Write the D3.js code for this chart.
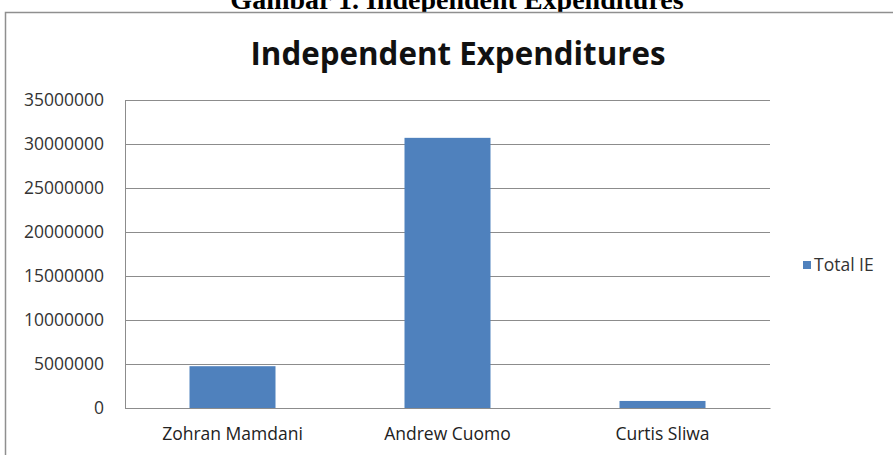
<!DOCTYPE html>
<html lang="en">
<head>
    <meta charset="UTF-8">
    <script src="https://d3js.org/d3.v7.min.js"></script>
    <title>Independent Expenditures</title>
    <style>
        body { margin: 0; background: #fff; }
        svg { display: block; }
    </style>
</head>
<body>
    <svg width="893" height="455"></svg>
    <script>
        const candidates = ['Zohran Mamdani', 'Andrew Cuomo', 'Curtis Sliwa'];
        const totalIE = [4750000, 30700000, 800000];
        const yTicks = [0, 5000000, 10000000, 15000000, 20000000, 25000000, 30000000, 35000000];
        const seriesName = 'Total IE';

        const margin = { top: 100, bottom: 47, left: 125, right: 123 };
        const width = 893;
        const height = 455;
        const barColor = '#4f81bd';
        const font = '"Open Sans", sans-serif';

        const svg = d3.select('svg');

        // caption above the chart box, top half cut off by the page edge
        svg.append('text')
            .attr('x', 457)
            .attr('y', 9)
            .attr('text-anchor', 'middle')
            .style('font-family', '"Liberation Serif", serif')
            .style('font-weight', 'bold')
            .style('font-size', '28px')
            .text('Gambar 1. Independent Expenditures');

        // chart frame
        svg.append('rect')
            .attr('x', 5.5)
            .attr('y', 12.5)
            .attr('width', 900)
            .attr('height', 460)
            .attr('fill', '#fff')
            .attr('stroke', '#8f8f8f')
            .attr('stroke-width', 1.5);

        svg.append('text')
            .attr('x', 458)
            .attr('y', 65)
            .attr('text-anchor', 'middle')
            .attr('textLength', 415)
            .attr('lengthAdjust', 'spacingAndGlyphs')
            .style('font-family', font)
            .style('font-weight', 'bold')
            .style('font-size', '33px')
            .attr('fill', '#111')
            .text('Independent Expenditures');

        const x = d3.scaleBand()
            .domain(candidates)
            .range([margin.left, width - margin.right])
            .paddingInner(0.6)
            .paddingOuter(0.3);

        const y = d3.scaleLinear()
            .domain([0, 35000000])
            .range([height - margin.bottom, margin.top]);

        // gridlines + y labels
        const yAxis = d3.axisLeft(y)
            .tickValues(yTicks)
            .tickSize(-(width - margin.left - margin.right))
            .tickPadding(21)
            .tickFormat(d3.format('d'));

        const gy = svg.append('g')
            .attr('transform', `translate(${margin.left}, 0)`)
            .call(yAxis);
        gy.select('.domain').attr('stroke', '#8c8c8c');
        gy.selectAll('.tick line').attr('stroke', '#8c8c8c');
        gy.selectAll('.tick text')
            .attr('fill', '#333')
            .style('font-family', font)
            .style('font-size', '17.5px');

        svg.selectAll('rect.bar')
            .data(totalIE)
            .enter().append('rect')
            .attr('class', 'bar')
            .attr('x', (d, i) => x(candidates[i]))
            .attr('y', d => y(d))
            .attr('width', x.bandwidth())
            .attr('height', d => y(0) - y(d))
            .attr('fill', barColor);

        const xAxis = d3.axisBottom(x).tickSize(0).tickPadding(20);
        const gx = svg.append('g')
            .attr('transform', `translate(0, ${height - margin.bottom})`)
            .call(xAxis);
        gx.select('.domain').attr('stroke', '#8c8c8c');
        gx.selectAll('.tick text')
            .attr('fill', '#222')
            .style('font-family', font)
            .style('font-size', '17.5px');

        // legend
        const legend = svg.append('g').attr('transform', 'translate(803, 265)');
        legend.append('rect')
            .attr('x', 0).attr('y', -4)
            .attr('width', 8).attr('height', 8)
            .attr('fill', barColor);
        legend.append('text')
            .attr('x', 11)
            .attr('y', 0)
            .attr('dy', '0.35em')
            .attr('fill', '#333')
            .style('font-family', font)
            .style('font-size', '17.5px')
            .text(seriesName);
    </script>
</body>
</html>
